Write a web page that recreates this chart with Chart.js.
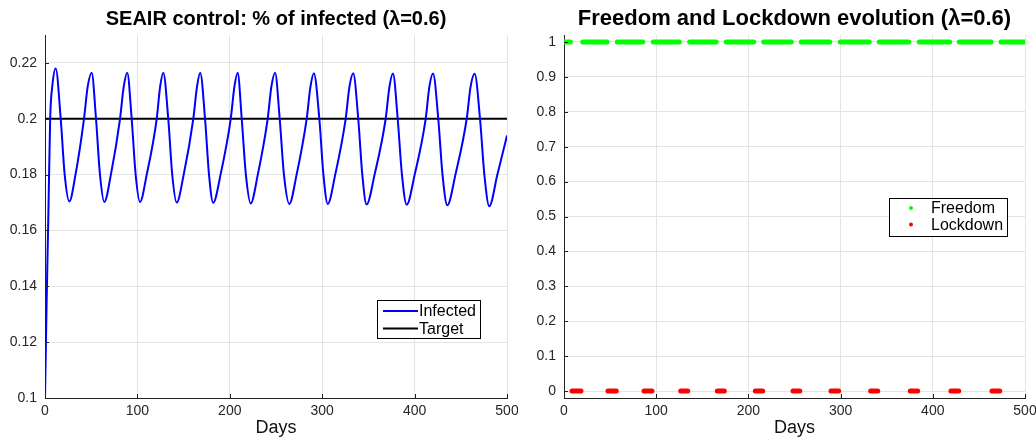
<!DOCTYPE html>
<html>
<head>
<meta charset="utf-8">
<script src="https://cdn.jsdelivr.net/npm/chart.js@4.4.0/dist/chart.umd.min.js"></script>
<style>
  body { margin: 0; background: #fff; }
  #wrap { position: relative; width: 1036px; height: 443px; }
  canvas { position: absolute; top: 0; }
  #seair { left: 0; }
  #lock { left: 518px; }
</style>
</head>
<body>
<div id="wrap">
  <canvas id="seair" width="518" height="443"></canvas>
  <canvas id="lock" width="518" height="443"></canvas>
</div>
<script>
// values
const infectedDays = [
  0, 1.8, 3.6, 5.6, 8, 11.6, 17, 21.3, 26.3,
  33, 42.2, 46.2, 50.5, 55.2, 59.5, 64.2,
  71.3, 81.2, 85.2, 89, 93.8, 98.1, 102.8,
  110.1, 120.9, 124.6, 128, 133.4, 137.7, 142.5,
  150.1, 160.5, 164.5, 168, 173.2, 177.5, 182,
  190, 201, 205, 208.5, 212.9, 217.4, 222.6,
  230.3, 241, 245, 249, 254, 258.6, 264.4,
  272.3, 283.2, 287.3, 291, 296.9, 301.3, 306,
  314.1, 325.4, 329.5, 333.6, 339, 343.4, 348,
  356.7, 368.7, 372.8, 376.6, 381.7, 386.3, 391.4,
  400.1, 412, 416, 420, 425.6, 430.2, 435.4,
  444.2, 456.4, 460.6, 465, 470.8, 475.5, 480.8,
  489.6, 500
];
const infectedValues = [
  0.1, 0.135, 0.165, 0.2, 0.212, 0.218, 0.2, 0.18, 0.1704,
  0.18, 0.2, 0.2115, 0.2165, 0.2, 0.18, 0.1702,
  0.18, 0.2, 0.2115, 0.2165, 0.2, 0.18, 0.1702,
  0.18, 0.2, 0.2115, 0.2165, 0.2, 0.18, 0.17,
  0.18, 0.2, 0.2115, 0.2165, 0.2, 0.18, 0.1699,
  0.18, 0.2, 0.2115, 0.2165, 0.2, 0.18, 0.1697,
  0.18, 0.2, 0.2115, 0.2165, 0.2, 0.18, 0.1695,
  0.18, 0.2, 0.2115, 0.2163, 0.2, 0.18, 0.1695,
  0.18, 0.2, 0.2115, 0.2163, 0.2, 0.18, 0.1693,
  0.18, 0.2, 0.2115, 0.2162, 0.2, 0.18, 0.1692,
  0.18, 0.2, 0.2115, 0.2162, 0.2, 0.18, 0.169,
  0.18, 0.2, 0.2115, 0.2161, 0.2, 0.18, 0.1687,
  0.18, 0.194
];
const targetDays = [0, 500];
const targetValues = [0.2, 0.2];

// freedom (=1) and lockdown (=0) periods, in days
const freedomStart = [0, 20.3, 57.8, 96.9, 136.3, 176, 216.6, 257.4, 299.7, 342, 385.4, 428.7, 474];
const freedomEnd   = [7, 46.6, 85.4, 125.1, 164.9, 205.7, 246.5, 288.2, 331.1, 373.9, 418.3, 463.1, 500];
const lockdownStart = [8.7, 47.7, 86.8, 126.6, 166.3, 207.5, 248.4, 289.6, 332.6, 375.6, 419.7, 464.2];
const lockdownEnd   = [18.4, 56.7, 95.4, 134.2, 173.9, 215.5, 255.7, 297.9, 340.3, 383.6, 428.1, 472.6];

const dayTicks = [0, 100, 200, 300, 400, 500];

Chart.defaults.font.family = '"Liberation Sans", Arial, sans-serif';
Chart.defaults.color = '#262626';

const toPoints = (xs, ys) => xs.map((d, i) => ({ x: d, y: ys[i] }));
const toRuns = (starts, ends, level) => {
  const pts = [];
  starts.forEach((s, i) => {
    pts.push({ x: s, y: level }, { x: ends[i], y: level }, { x: ends[i], y: null });
  });
  return pts;
};

// titles, inward ticks and the boxed legend
const panelExtras = {
  id: 'panelExtras',
  afterDraw(chart, args, opts) {
    const { ctx, chartArea: a, scales: { x, y } } = chart;
    ctx.save();
    ctx.strokeStyle = '#222';
    ctx.lineWidth = 1;
    ctx.beginPath();
    x.ticks.forEach(t => {
      const px = Math.round(x.getPixelForValue(t.value)) + 0.5;
      ctx.moveTo(px, a.bottom);
      ctx.lineTo(px, a.bottom - 4);
    });
    y.ticks.forEach(t => {
      const py = Math.round(y.getPixelForValue(t.value)) + 0.5;
      ctx.moveTo(a.left, py);
      ctx.lineTo(a.left + 4, py);
    });
    ctx.stroke();

    ctx.fillStyle = '#000';
    ctx.font = 'bold ' + opts.titleSize + 'px "Liberation Sans", Arial, sans-serif';
    ctx.textAlign = 'center';
    ctx.textBaseline = 'middle';
    ctx.fillText(opts.title, (a.left + a.right) / 2, 19);

    const L = opts.legend;
    ctx.fillStyle = '#fff';
    ctx.fillRect(L.x, L.y, L.w, L.h);
    ctx.strokeStyle = '#000';
    ctx.strokeRect(L.x + 0.5, L.y + 0.5, L.w, L.h);
    ctx.font = '16px "Liberation Sans", Arial, sans-serif';
    ctx.textAlign = 'left';
    chart.data.datasets.forEach((ds, i) => {
      const ty = L.y + L.rowTop + i * L.rowGap;
      if (L.kind === 'line') {
        ctx.strokeStyle = ds.borderColor;
        ctx.lineWidth = 2;
        ctx.beginPath();
        ctx.moveTo(L.x + 6, ty);
        ctx.lineTo(L.x + 41, ty);
        ctx.stroke();
      } else {
        ctx.fillStyle = ds.borderColor;
        ctx.beginPath();
        ctx.arc(L.x + 22, ty, 2, 0, Math.PI * 2);
        ctx.fill();
      }
      ctx.fillStyle = '#000';
      ctx.fillText(ds.label, L.x + L.textX, ty + 1);
    });
    ctx.restore();
  }
};

function axes(yMin, yMax, yStep, yWidth) {
  return {
    x: {
      type: 'linear', min: 0, max: 500,
      afterBuildTicks: s => { s.ticks = dayTicks.map(v => ({ value: v })); },
      ticks: { padding: 5, font: { size: 14 }, maxRotation: 0 },
      grid: { color: '#e4e4e4', drawTicks: false },
      border: { color: '#222' },
      title: { display: true, text: 'Days', color: '#111', font: { size: 18 }, padding: { top: 0, bottom: 4 } },
      afterFit: s => { s.height = 45; s.paddingLeft = 0; s.paddingRight = 0; }
    },
    y: {
      min: yMin, max: yMax,
      ticks: {
        stepSize: yStep, includeBounds: false, padding: 8, font: { size: 14 },
        callback: v => String(+v.toFixed(2))
      },
      grid: { color: '#e4e4e4', drawTicks: false },
      border: { color: '#222' },
      afterFit: s => { s.width = yWidth; s.paddingTop = 0; s.paddingBottom = 0; }
    }
  };
}

new Chart(document.getElementById('seair'), {
  type: 'line',
  data: {
    datasets: [
      {
        label: 'Infected',
        data: toPoints(infectedDays, infectedValues),
        borderColor: '#0000ff',
        borderWidth: 2,
        pointRadius: 0,
        cubicInterpolationMode: 'monotone'
      },
      {
        label: 'Target',
        data: toPoints(targetDays, targetValues),
        borderColor: '#000',
        borderWidth: 2,
        pointRadius: 0
      }
    ]
  },
  options: {
    responsive: false,
    animation: false,
    events: [],
    layout: { padding: { top: 35, right: 11, left: 0, bottom: 0 } },
    scales: axes(0.1, 0.23, 0.02, 45),
    plugins: {
      legend: { display: false },
      tooltip: { enabled: false },
      panelExtras: {
        title: 'SEAIR control: % of infected (λ=0.6)',
        titleSize: 20,
        legend: { kind: 'line', x: 377, y: 300, w: 103, h: 38, rowTop: 11, rowGap: 17.6, textX: 42 }
      }
    }
  },
  plugins: [panelExtras]
});

new Chart(document.getElementById('lock'), {
  type: 'line',
  data: {
    datasets: [
      {
        label: 'Freedom',
        data: toRuns(freedomStart, freedomEnd, 1),
        borderColor: '#00ff00',
        borderWidth: 5,
        borderCapStyle: 'round',
        pointRadius: 0,
        spanGaps: false
      },
      {
        label: 'Lockdown',
        data: toRuns(lockdownStart, lockdownEnd, 0),
        borderColor: '#ff0000',
        borderWidth: 5,
        borderCapStyle: 'round',
        pointRadius: 0,
        spanGaps: false
      }
    ]
  },
  options: {
    responsive: false,
    animation: false,
    events: [],
    layout: { padding: { top: 35, right: 11, left: 0, bottom: 0 } },
    scales: axes(-0.02, 1.02, 0.1, 46),
    plugins: {
      legend: { display: false },
      tooltip: { enabled: false },
      panelExtras: {
        title: 'Freedom and Lockdown evolution (λ=0.6)',
        titleSize: 22,
        legend: { kind: 'dot', x: 371, y: 198, w: 118, h: 38, rowTop: 10, rowGap: 16.6, textX: 42 }
      }
    }
  },
  plugins: [panelExtras]
});
</script>
</body>
</html>
